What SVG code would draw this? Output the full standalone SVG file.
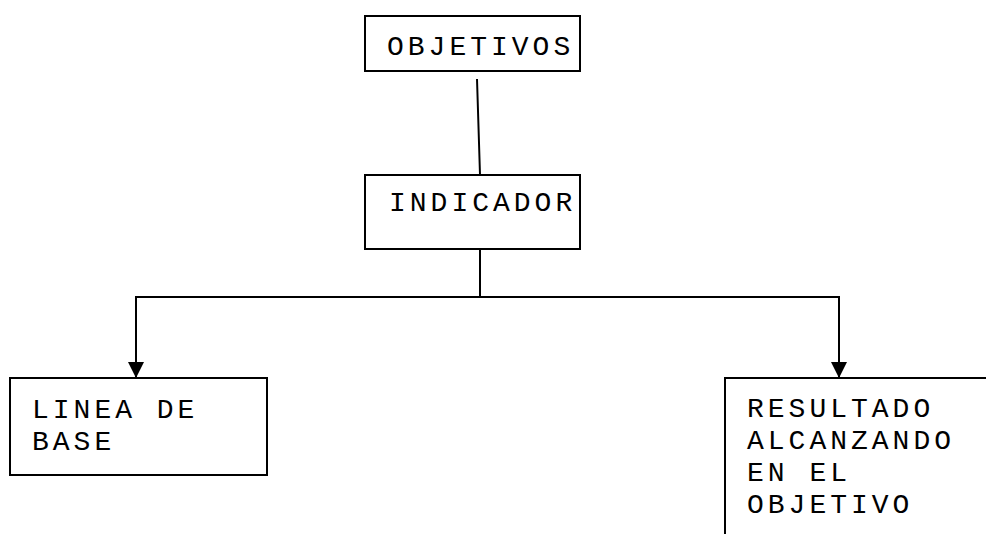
<svg xmlns="http://www.w3.org/2000/svg" width="986" height="534" viewBox="0 0 986 534">
<defs>
<style>
.box{fill:#fff;stroke:#000;stroke-width:2}
.t{font-family:"Liberation Mono","Courier New",monospace;font-size:28px;letter-spacing:4px;fill:#000}
.c{stroke:#000;stroke-width:2;fill:none}
</style>
<marker id="ah" markerUnits="userSpaceOnUse" markerWidth="16" markerHeight="16" refX="16" refY="8" orient="auto" viewBox="0 0 16 16">
<path d="M0,0 L16,8 L0,16 Z" fill="#000"/>
</marker>
</defs>
<rect width="986" height="534" fill="#fff"/>
<g id="connectors">
<line class="c" x1="477" y1="79" x2="480" y2="175"/>
<polyline class="c" points="480,249 480,297"/>
<line class="c" x1="135" y1="297" x2="840" y2="297"/>
<line class="c" x1="136" y1="297" x2="136" y2="378" marker-end="url(#ah)"/>
<line class="c" x1="839" y1="297" x2="839" y2="378" marker-end="url(#ah)"/>
</g>
<g id="objetivos">
<rect class="box" x="365" y="16" width="215" height="55"/>
<text class="t" x="387" y="55">OBJETIVOS</text>
</g>
<g id="indicador">
<rect class="box" x="365" y="175" width="215" height="74"/>
<text class="t" x="389" y="211">INDICADOR</text>
</g>
<g id="linea">
<rect class="box" x="10" y="378" width="257" height="97"/>
<text class="t" x="32" y="418">LINEA DE</text>
<text class="t" x="32" y="450">BASE</text>
</g>
<g id="resultado">
<path class="box" d="M725,540 L725,378 L990,378"/>
<text class="t" x="747" y="417">RESULTADO</text>
<text class="t" x="747" y="449">ALCANZANDO</text>
<text class="t" x="747" y="481">EN EL</text>
<text class="t" x="747" y="513">OBJETIVO</text>
</g>
</svg>
